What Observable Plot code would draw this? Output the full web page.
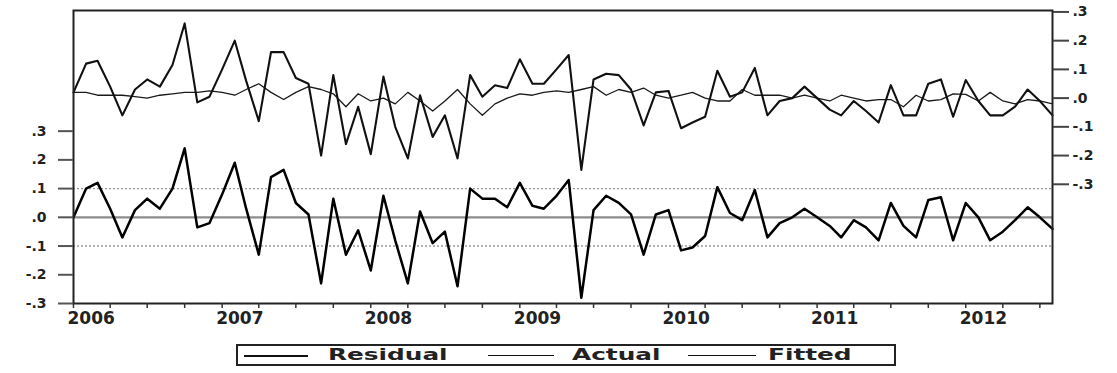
<!DOCTYPE html>
<html><head><meta charset="utf-8">
<script src="https://cdn.jsdelivr.net/npm/d3@7"></script>
<script src="https://cdn.jsdelivr.net/npm/@observablehq/plot@0.6"></script>
<style>
body{margin:0;background:#fff;}
#wrap{position:relative;width:1117px;height:373px;overflow:hidden;}
#legend{position:absolute;left:236px;top:344px;width:656px;height:18px;border:2px solid #222;box-sizing:content-box;}
#legend .ln{position:absolute;top:9px;height:0;border-top-style:solid;border-top-color:#111;}
#legend .tx{position:absolute;top:0px;font-family:"DejaVu Sans";font-weight:bold;font-size:15px;line-height:18px;color:#222;transform:scaleX(1.65);transform-origin:left center;white-space:nowrap;}
</style></head><body>
<div id="wrap"><div id="chart"></div>
<div id="legend">
  <div class="ln" style="left:6px;width:64px;border-top-width:2.4px"></div>
  <div class="tx" style="left:90px">Residual</div>
  <div class="ln" style="left:250px;width:66px;border-top-width:1.8px"></div>
  <div class="tx" style="left:334px">Actual</div>
  <div class="ln" style="left:450px;width:68px;border-top-width:1.2px"></div>
  <div class="tx" style="left:530px">Fitted</div>
</div></div>
<script>
// Monthly observations 2006M01 .. 2012M08
const startMonth = "2006-01-01";
const nObs = 80;
const residual = [0.0,0.10,0.12,0.03,-0.07,0.025,0.065,0.03,0.10,0.24,
  -0.035,-0.02,0.08,0.19,0.03,-0.13,0.14,0.165,0.05,0.01,
  -0.23,0.065,-0.13,-0.045,-0.185,0.075,-0.08,-0.23,0.02,-0.09,
  -0.05,-0.24,0.10,0.065,0.065,0.035,0.12,0.04,0.03,0.075,
  0.13,-0.28,0.025,0.075,0.05,0.01,-0.13,0.01,0.025,-0.115,
  -0.105,-0.065,0.105,0.015,-0.01,0.095,-0.07,-0.02,0.0,0.03,
  0.0,-0.03,-0.07,-0.01,-0.035,-0.08,0.05,-0.03,-0.07,0.06,
  0.07,-0.08,0.05,0.0,-0.08,-0.05,-0.01,0.035,0.0,-0.04];
const actual = [0.02,0.12,0.13,0.04,-0.06,0.03,0.065,0.04,0.115,0.26,
  -0.015,0.005,0.10,0.20,0.06,-0.08,0.16,0.16,0.07,0.05,
  -0.20,0.08,-0.16,-0.03,-0.195,0.075,-0.10,-0.21,0.01,-0.135,
  -0.06,-0.21,0.08,0.005,0.045,0.035,0.135,0.05,0.05,0.10,
  0.15,-0.25,0.065,0.085,0.08,0.03,-0.095,0.02,0.025,-0.105,
  -0.085,-0.065,0.095,0.005,0.02,0.105,-0.06,-0.01,0.0,0.04,
  0.0,-0.04,-0.06,-0.01,-0.045,-0.085,0.045,-0.06,-0.06,0.05,
  0.065,-0.065,0.063,-0.01,-0.06,-0.06,-0.03,0.03,-0.01,-0.06];
const fitted = [0.02,0.02,0.01,0.01,0.01,0.005,0.0,0.01,0.015,0.02,
  0.02,0.025,0.02,0.01,0.03,0.05,0.02,-0.005,0.02,0.04,
  0.03,0.015,-0.03,0.015,-0.01,0.0,-0.02,0.02,-0.01,-0.045,
  -0.01,0.03,-0.02,-0.06,-0.02,0.0,0.015,0.01,0.02,0.025,
  0.02,0.03,0.04,0.01,0.03,0.02,0.035,0.01,0.0,0.01,
  0.02,0.0,-0.01,-0.01,0.03,0.01,0.01,0.01,0.0,0.01,
  0.0,-0.01,0.01,0.0,-0.01,-0.005,-0.005,-0.03,0.01,-0.01,
  -0.005,0.015,0.013,-0.01,0.02,-0.01,-0.02,-0.005,-0.01,-0.02];
const yearLabels = [2006,2007,2008,2009,2010,2011,2012];
const leftTicks = [-0.3,-0.2,-0.1,0,0.1,0.2,0.3];
const rightTicks = [-0.3,-0.2,-0.1,0,0.1,0.2,0.3];
const bandLines = [-0.1, 0.1];

// right (Actual/Fitted) axis is shifted relative to the left (Residual) axis
const OFFSET = 0.415;

const t0 = new Date(startMonth + "T00:00:00Z");
const dates = d3.range(nObs).map(i => d3.utcMonth.offset(t0, i));
const data = dates.map((date, i) => ({date, residual: residual[i], actual: actual[i], fitted: fitted[i]}));
const quarters = d3.utcMonth.range(t0, d3.utcMonth.offset(dates[nObs-1], 1), 3);
const years = yearLabels.map(y => new Date(Date.UTC(y, 0, 1)));
const fmt = v => { const r = Math.round(v * 10); return r === 0 ? ".0" : (r < 0 ? "-." : ".") + Math.abs(r); };

const chart = Plot.plot({
  width: 1117, height: 330,
  marginLeft: 73, marginRight: 65, marginTop: 10, marginBottom: 27,
  style: {fontFamily: "DejaVu Sans", fontWeight: "bold", fontSize: "14px", color: "#222", background: "white"},
  x: {type: "utc", domain: [dates[0], dates[nObs-1]], axis: null},
  y: {domain: [-0.3, 0.72], axis: null},
  marks: [
    Plot.ruleY([0], {stroke: "#8c8c8c", strokeWidth: 2.2}),
    Plot.ruleY(bandLines, {stroke: "#9a9a9a", strokeWidth: 1.4, strokeDasharray: "2,2"}),
    Plot.line(data, {x: "date", y: d => d.fitted + OFFSET, stroke: "#1a1a1a", strokeWidth: 1.3}),
    Plot.line(data, {x: "date", y: d => d.actual + OFFSET, stroke: "#111", strokeWidth: 2.1}),
    Plot.line(data, {x: "date", y: "residual", stroke: "#000", strokeWidth: 2.5}),
    Plot.frame({stroke: "#222", strokeWidth: 2}),
    Plot.axisY(leftTicks, {anchor: "left", label: null, tickSize: 15, tickPadding: 12, tickFormat: fmt, stroke: "#555", strokeWidth: 2, fontSize: 14, ariaLabel: "yleft"}),
    Plot.axisY(rightTicks.map(t => t + OFFSET), {anchor: "right", label: null, tickSize: 16, tickPadding: 4, tickFormat: v => fmt(v - OFFSET), stroke: "#444", strokeWidth: 2, fontSize: 14, ariaLabel: "yright"}),
    Plot.axisX(quarters, {anchor: "bottom", label: null, tickSize: 5, tickFormat: () => "", stroke: "#333", strokeWidth: 1.5}),
    Plot.axisX(years, {anchor: "bottom", label: null, tickSize: 0, tickPadding: 8, tickFormat: d => String(d.getUTCFullYear()), textAnchor: "start", dx: -6, fontSize: 17, ariaLabel: "years"})
  ]
});
document.getElementById("chart").appendChild(chart);

function stretch(sel, s) {
  d3.select(chart).selectAll(sel).each(function() {
    const el = d3.select(this);
    const x = +(el.attr("x") || 0), y = +(el.attr("y") || 0);
    const T = el.attr("transform") || "";
    el.attr("transform", `${T} translate(${x},${y}) scale(${s},1) translate(${-x},${-y})`);
  });
}
stretch('g[aria-label="years"] text', 1.5);
stretch('g[aria-label="yleft"] text', 1.45);
stretch('g[aria-label="yright"] text', 1.45);
</script>
</body></html>
